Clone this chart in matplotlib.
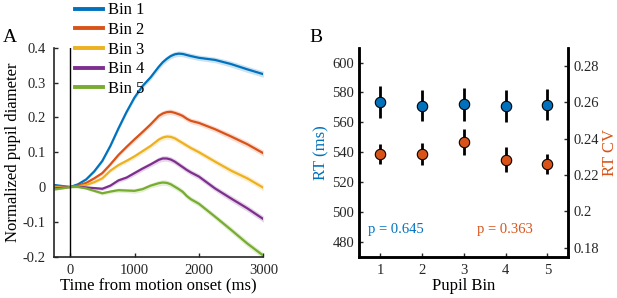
import matplotlib
matplotlib.use("Agg")
import matplotlib.pyplot as plt
import numpy as np
from matplotlib.lines import Line2D

plt.rcParams['font.family'] = ['Liberation Serif', 'DejaVu Serif']

# ---------------- Panel A data ----------------
time_ms = [-250, -125, 0, 125, 250, 375, 500, 625, 750, 875, 1000, 1125, 1250, 1375,
           1437, 1500, 1562, 1625, 1687, 1750, 1812, 1875, 2000, 2250, 2500, 2750, 3000]
bin1 = [0.006, 0.003, 0.0, 0.008, 0.022, 0.045, 0.075, 0.118, 0.168, 0.215, 0.257, 0.290, 0.315, 0.345,
        0.358, 0.368, 0.376, 0.381, 0.383, 0.382, 0.379, 0.376, 0.371, 0.365, 0.353, 0.338, 0.324]
bin2 = [0.002, 0.001, 0.0, 0.004, 0.012, 0.025, 0.040, 0.065, 0.092, 0.115, 0.137, 0.158, 0.180, 0.204,
        0.211, 0.215, 0.216, 0.213, 0.209, 0.204, 0.196, 0.190, 0.184, 0.166, 0.145, 0.123, 0.097]
bin3 = [-0.001, 0.0, 0.0, 0.002, 0.006, 0.014, 0.025, 0.047, 0.063, 0.075, 0.088, 0.103, 0.118, 0.136,
        0.142, 0.145, 0.144, 0.140, 0.133, 0.126, 0.119, 0.112, 0.100, 0.073, 0.047, 0.025, -0.002]
bin4 = [-0.004, -0.002, 0.0, 0.001, -0.001, -0.003, -0.005, 0.004, 0.019, 0.027, 0.040, 0.053, 0.065, 0.078,
        0.082, 0.082, 0.079, 0.073, 0.065, 0.057, 0.049, 0.042, 0.030, -0.004, -0.033, -0.061, -0.092]
bin5 = [-0.007, -0.004, 0.0, 0.0, -0.004, -0.011, -0.018, -0.013, -0.009, -0.010, -0.011, -0.006, 0.004, 0.011,
        0.013, 0.012, 0.008, 0.001, -0.006, -0.014, -0.026, -0.035, -0.048, -0.085, -0.123, -0.162, -0.197]
sem = [0.003, 0.002, 0.0, 0.002, 0.003, 0.004, 0.005, 0.005, 0.006, 0.006, 0.007, 0.007, 0.007, 0.008,
       0.008, 0.008, 0.008, 0.008, 0.008, 0.008, 0.008, 0.008, 0.008, 0.008, 0.009, 0.009, 0.009]
bin_labels = ['Bin 1', 'Bin 2', 'Bin 3', 'Bin 4', 'Bin 5']
bin_colors = ['#0072BD', '#D95319', '#EDB120', '#7E2F8E', '#77AC30']
a_yticks = [-0.2, -0.1, 0, 0.1, 0.2, 0.3, 0.4]
a_yticklabels = ['-0.2', '-0.1', '0', '0.1', '0.2', '0.3', '0.4']
a_xticks = [0, 1000, 2000, 3000]

# ---------------- Panel B data ----------------
pupil_bin = [1, 2, 3, 4, 5]
rt_mean = [573.7, 571.2, 572.1, 570.8, 571.9]
rt_err = [10.7, 10.5, 11.0, 10.8, 10.6]
cv_mean = [0.2315, 0.2315, 0.238, 0.2284, 0.226]
cv_err = [0.0057, 0.0059, 0.0071, 0.0070, 0.0055]
rt_yticks = [480, 500, 520, 540, 560, 580, 600]
cv_yticks = [0.18, 0.2, 0.22, 0.24, 0.26, 0.28]
cv_yticklabels = ['0.18', '0.2', '0.22', '0.24', '0.26', '0.28']
p_rt = 'p = 0.645'
p_cv = 'p = 0.363'

tick_color = '#262626'
fig = plt.figure(figsize=(6.17, 2.98), dpi=100)

# ---------- Panel A ----------
axA = fig.add_axes([0.0875, 0.1386, 0.3393, 0.7013])
series = [bin1, bin2, bin3, bin4, bin5]
t = np.array(time_ms)
s = np.array(sem)
for y, c, lab in zip(series, bin_colors, bin_labels):
    y = np.array(y)
    axA.fill_between(t, y - s, y + s, color=c, alpha=0.2, lw=0)
    axA.plot(t, y, color=c, lw=1.6, label=lab, solid_joinstyle='round')
axA.axvline(0, color='black', lw=1.0)
axA.set_xlim(-250, 3000)
axA.set_ylim(-0.2, 0.4)
axA.set_xticks(a_xticks)
axA.set_xticklabels([str(v) for v in a_xticks])
axA.set_yticks(a_yticks)
axA.set_yticklabels(a_yticklabels)
for sp in ['top', 'right']:
    axA.spines[sp].set_visible(False)
for sp in ['left', 'bottom']:
    axA.spines[sp].set_linewidth(1.2)
    axA.spines[sp].set_color(tick_color)
axA.tick_params(direction='in', length=3, labelsize=10.5, colors=tick_color, width=1)
axA.tick_params(axis='x', pad=5)
axA.tick_params(axis='y', pad=6)
axA.set_xlabel('Time from motion onset (ms)', fontsize=12, labelpad=1)
axA.set_ylabel('Normalized pupil diameter', fontsize=12, labelpad=1)

handles = [Line2D([0], [0], color=c, lw=2.8) for c in bin_colors]
fig.legend(handles, bin_labels, loc='upper left', bbox_to_anchor=(0.108, 1.02),
           bbox_transform=fig.transFigure, frameon=False, fontsize=12,
           handlelength=1.7, handletextpad=0.3, labelspacing=0.22, borderpad=0.0)
fig.text(0.005, 0.86, 'A', fontsize=14)

# ---------- Panel B ----------
axB = fig.add_axes([0.5823, 0.1386, 0.3387, 0.7013])
axB.errorbar(pupil_bin, rt_mean, yerr=rt_err, fmt='o', color='black', ecolor='black',
             elinewidth=2, capsize=0, markersize=7.5, markerfacecolor='#0072BD',
             markeredgecolor='black', markeredgewidth=0.8, zorder=3)
axB.set_xlim(0.5, 5.5)
axB.set_ylim(470, 610)
axB.set_xticks(pupil_bin)
axB.set_yticks(rt_yticks)
axB.set_ylabel('RT (ms)', color='#0072BD', fontsize=12, labelpad=2)
axB.set_xlabel('Pupil Bin', fontsize=12, labelpad=1)
axB.tick_params(direction='in', length=3, labelsize=10.5, colors=tick_color, width=1)
axB.tick_params(axis='x', pad=5)
axB.spines['top'].set_visible(False)
for sp in ['left', 'bottom', 'right']:
    axB.spines[sp].set_linewidth(1.8)
    axB.spines[sp].set_color('black')
axB.text(0.72, 488, p_rt, color='#0072BD', fontsize=10.5, va='center')
axB.text(3.31, 488, p_cv, color='#D95319', fontsize=10.5, va='center')

axB2 = axB.twinx()
axB2.errorbar(pupil_bin, cv_mean, yerr=cv_err, fmt='o', color='black', ecolor='black',
              elinewidth=2, capsize=0, markersize=7.5, markerfacecolor='#D95319',
              markeredgecolor='black', markeredgewidth=0.8, zorder=3)
axB2.set_ylim(0.175, 0.29)
axB2.set_yticks(cv_yticks)
axB2.set_yticklabels(cv_yticklabels)
axB2.set_ylabel('RT CV', color='#D95319', fontsize=12, labelpad=2)
axB2.tick_params(direction='in', length=3, labelsize=10.5, colors=tick_color, width=1)
axB2.spines['top'].set_visible(False)
for sp in ['left', 'bottom', 'right']:
    axB2.spines[sp].set_linewidth(1.8)
    axB2.spines[sp].set_color('black')
fig.text(0.502, 0.86, 'B', fontsize=14)

fig.savefig('out.png', dpi=100)
